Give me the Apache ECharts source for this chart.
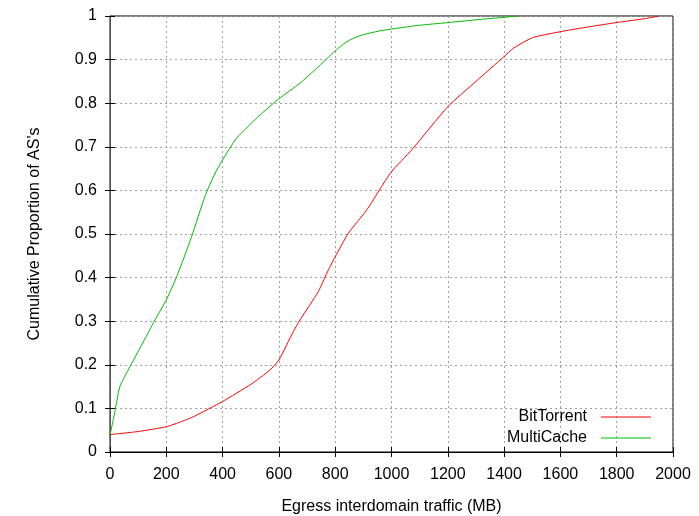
<!DOCTYPE html>
<html>
<head>
<meta charset="utf-8">
<script src="https://cdn.jsdelivr.net/npm/echarts@6/dist/echarts.min.js"></script>
<style>html,body{margin:0;padding:0;background:#fff}#c{width:699px;height:516px}</style>
</head>
<body>
<div id="c"></div>
<script>
var xTicks = [0,200,400,600,800,1000,1200,1400,1600,1800,2000];
var yTicks = [0,0.1,0.2,0.3,0.4,0.5,0.6,0.7,0.8,0.9,1];
var seriesNames = ['BitTorrent','MultiCache'];
var bitTorrentX = [0,100,200,255,300,400,500,568,600,651,675,740,770,800,847,912,959,1000,1072,1200,1300,1400,1433,1500,1600,1700,1800,1900,1950];
var bitTorrentY = [0.04,0.047,0.058,0.07,0.082,0.116,0.155,0.188,0.211,0.276,0.303,0.368,0.41,0.448,0.502,0.555,0.603,0.643,0.693,0.792,0.85,0.907,0.926,0.95,0.964,0.975,0.985,0.994,1.0];
var multiCacheX = [0,12,23,35,71,112,160,200,237,290,337,370,400,450,533,600,675,734,800,841,888,959,1000,1089,1202,1314,1450];
var multiCacheY = [0.039,0.075,0.112,0.15,0.196,0.245,0.303,0.349,0.402,0.494,0.586,0.635,0.67,0.72,0.773,0.81,0.846,0.88,0.92,0.941,0.955,0.966,0.970,0.978,0.985,0.992,1.0];
function pairs(xs, ys){ return xs.map(function(x,i){return [x, ys[i]];}); }
var font = 'Liberation Sans, Arial, sans-serif';
var redC = '#ff0000', greenC = '#00b800';
var chart = echarts.init(document.getElementById('c'));
var gridLine = {show:true, lineStyle:{color:'#a0a0a0', type:[2,3], width:1}};
function legendFor(name, top){
  return {
    data:[name], orient:'horizontal', right:48, top:top, align:'right', padding:0,
    icon:'rect', itemWidth:50, itemHeight:1.2,
    textStyle:{fontFamily:font, fontSize:16, color:'#000', lineHeight:18, padding:[0,9,0,0]}
  };
}
chart.setOption({
  animation:false,
  backgroundColor:'#fff',
  grid:{left:110, right:26, top:16, bottom:64, show:true, borderColor:'#000', borderWidth:1, outerBoundsMode:'none', containLabel:false},
  legend:[legendFor(seriesNames[0], 408), legendFor(seriesNames[1], 429)],
  xAxis:[{
    type:'value', min:0, max:2000, interval:200,
    name:'Egress interdomain traffic (MB)', nameLocation:'middle', nameGap:47,
    nameTextStyle:{fontFamily:font, fontSize:16, color:'#000'},
    axisLine:{show:true, lineStyle:{color:'#000'}},
    axisTick:{show:true, inside:true, length:5, lineStyle:{color:'#000'}},
    axisLabel:{fontFamily:font, fontSize:16, color:'#000', margin:15, formatter:function(v){return String(v);}},
    splitLine:gridLine
  },{
    type:'value', min:0, max:2000, interval:200, position:'top',
    axisLine:{show:true, lineStyle:{color:'#000'}},
    axisTick:{show:true, inside:true, length:5, lineStyle:{color:'#000'}},
    axisLabel:{show:false}, splitLine:{show:false}
  }],
  yAxis:[{
    type:'value', min:0, max:1, interval:0.1,
    name:"Cumulative Proportion of AS's", nameLocation:'middle', nameGap:67,
    nameTextStyle:{fontFamily:font, fontSize:16, color:'#000'},
    axisLine:{show:true, lineStyle:{color:'#000'}},
    axisTick:{show:true, inside:true, length:5, lineStyle:{color:'#000'}},
    axisLabel:{fontFamily:font, fontSize:16, color:'#000', margin:13,
      formatter:function(v){return String(Math.round(v*10)/10);}},
    splitLine:gridLine
  },{
    type:'value', min:0, max:1, interval:0.1, position:'right',
    axisLine:{show:true, lineStyle:{color:'#555'}},
    axisTick:{show:true, inside:true, length:5, lineStyle:{color:'#000'}},
    axisLabel:{show:false}, splitLine:{show:false}
  }],
  series:[{
    name:seriesNames[0], type:'line', data:pairs(bitTorrentX, bitTorrentY),
    showSymbol:false, smooth:0.2, color:redC, lineStyle:{width:1, color:redC}
  },{
    name:seriesNames[1], type:'line', data:pairs(multiCacheX, multiCacheY),
    showSymbol:false, smooth:0.2, color:greenC, lineStyle:{width:1, color:greenC}
  }]
});
</script>
</body>
</html>
